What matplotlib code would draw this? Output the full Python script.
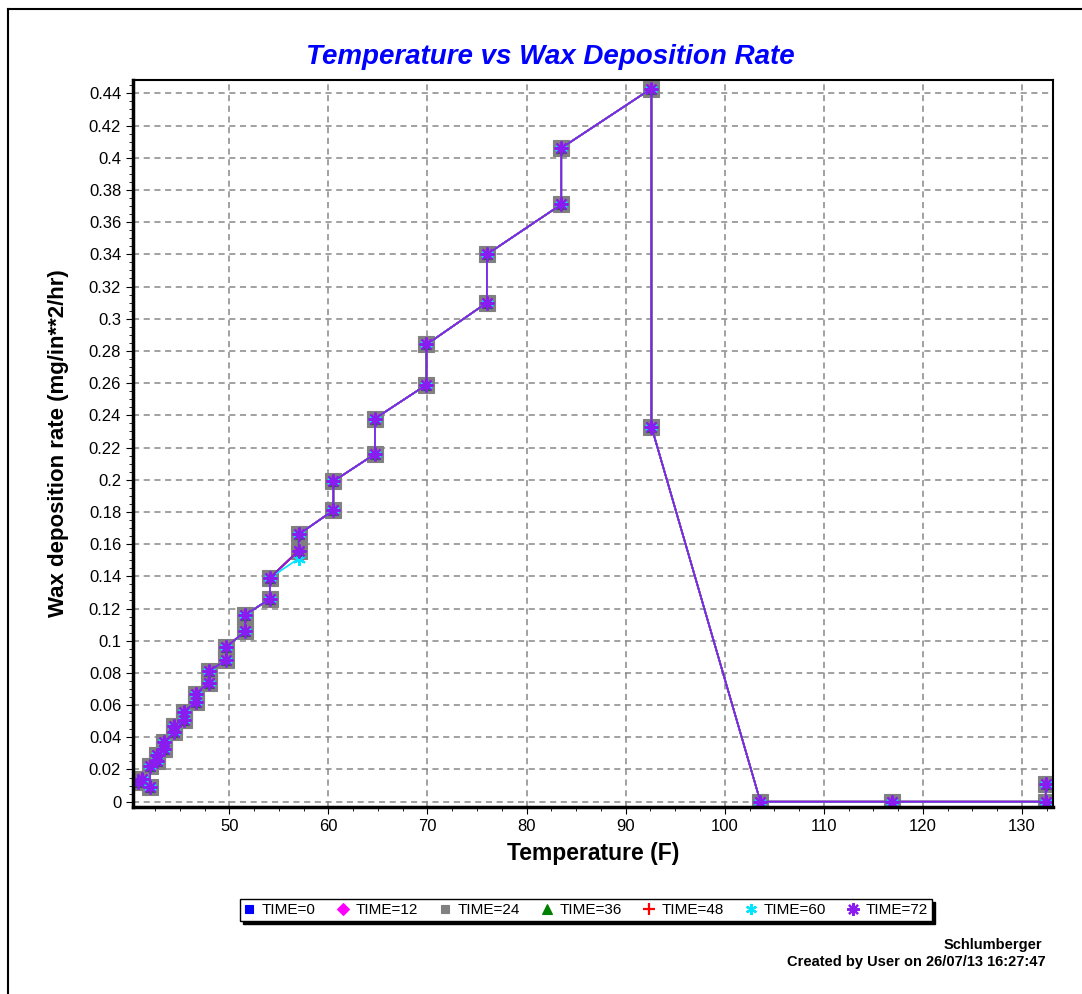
import matplotlib
matplotlib.use('Agg')
import matplotlib.pyplot as plt
from matplotlib.lines import Line2D
from matplotlib.ticker import MultipleLocator

plt.rcParams['font.family'] = ['Liberation Sans', 'DejaVu Sans']

# path along the pipe: temperature (F) and deposition rate (mg/in**2/hr)
temps = [40.8, 41.2, 42.0, 42.0, 42.7, 42.7, 43.4, 43.4, 44.4, 44.4,
         45.4, 45.4, 46.6, 46.6, 47.9, 47.9, 49.7, 49.7, 51.6, 51.6,
         54.1, 54.1, 57.0, 57.0, 60.5, 60.5, 64.7, 64.7, 69.9, 69.9,
         76.0, 76.0, 83.5, 83.5, 92.6, 92.6, 103.6, 116.9, 132.4, 132.4]
rates = [0.012, 0.014, 0.009, 0.022, 0.025, 0.029, 0.033, 0.037, 0.043, 0.047,
         0.051, 0.056, 0.062, 0.067, 0.074, 0.081, 0.088, 0.096, 0.106, 0.116,
         0.126, 0.139, 0.156, 0.166, 0.181, 0.199, 0.216, 0.238, 0.259, 0.284,
         0.310, 0.340, 0.371, 0.406, 0.443, 0.233, 0.0, 0.0, 0.0, 0.011]
# TIME=60 drops a little lower at 57 F
rates_t60 = rates[:22] + [0.151] + rates[23:]

times = [0, 12, 24, 36, 48, 60, 72]
colors = ['#0000ff', '#ff00ff', '#808080', '#008000', '#ff0000', '#00e5ff', '#8a1cf0']
markers = ['s', 'D', 's', '^', '+', (6, 2, 0), (8, 2, 0)]
msizes = [6, 6, 11, 7, 9, 9, 10]
leg_sizes = [6, 6, 6, 7, 8, 8, 9]

fig = plt.figure(figsize=(10.82, 9.94), dpi=100)
ax = fig.add_axes([133 / 1082, 1 - 807 / 994, 920 / 1082, 727 / 994])

for t, c, m, ms in zip(times, colors, markers, msizes):
    y = rates_t60 if t == 60 else rates
    ax.plot(temps, y, color=c, lw=1.2, marker=m, markersize=ms,
            markeredgewidth=1.6 if m == '+' or isinstance(m, tuple) else 0.8,
            markeredgecolor=c, markerfacecolor=c, label=f'TIME={t}')

ax.set_xlim(40.28, 133.13)
ax.set_ylim(-0.0033, 0.4483)
ax.xaxis.set_minor_locator(MultipleLocator(2.5))
ax.yaxis.set_minor_locator(MultipleLocator(0.005))
ax.set_yticks([round(0.02 * i, 2) for i in range(23)])
ax.set_yticklabels(['0'] + [f'{0.02 * i:.2f}'.rstrip('0') for i in range(1, 23)])
ax.set_xticks(range(50, 140, 10))
ax.tick_params(which='major', direction='out', length=5, labelsize=12, colors='black')
ax.tick_params(which='minor', direction='out', length=3)
ax.grid(True, which='major', ls=(0, (4, 3)), color='#888888', lw=1.1)
ax.set_axisbelow(True)
for s in ['left', 'bottom']:
    ax.spines[s].set_linewidth(2.5)
for s in ['top', 'right']:
    ax.spines[s].set_linewidth(1.5)

ax.set_xlabel('Temperature (F)', fontsize=16.5, fontweight='bold', labelpad=6)
ax.set_ylabel('Wax deposition rate (mg/in**2/hr)', fontsize=16, fontweight='bold', labelpad=14)
fig.text(550 / 1082, 1 - 57 / 994, 'Temperature vs Wax Deposition Rate', fontsize=20,
         fontweight='bold', fontstyle='italic', color='#0000ff', ha='center', va='center')

leg = fig.legend(loc='center', bbox_to_anchor=(586 / 1082, 1 - 910 / 994), ncol=7,
                 fontsize=11, frameon=True, fancybox=False, edgecolor='black',
                 handlelength=0.7, handletextpad=0.5, columnspacing=1.4, borderpad=0.25,
                 shadow={'color': 'black', 'alpha': 1})
for h, s in zip(leg.legend_handles, leg_sizes):
    h.set_linestyle('none')
    h.set_markersize(s)

fig.text(1042 / 1082, 1 - 945 / 994, 'Schlumberger', ha='right', va='center',
         fontsize=10.5, fontweight='bold')
fig.text(1046 / 1082, 1 - 962 / 994, 'Created by User on 26/07/13 16:27:47',
         ha='right', va='center', fontsize=10.5, fontweight='bold')

# outer frame
fig.add_artist(Line2D([8 / 1082, 8 / 1082], [0, 1 - 9 / 994], color='black', lw=1.5))
fig.add_artist(Line2D([8 / 1082, 1], [1 - 9 / 994, 1 - 9 / 994], color='black', lw=1.5))

fig.savefig('out.png', dpi=100)
